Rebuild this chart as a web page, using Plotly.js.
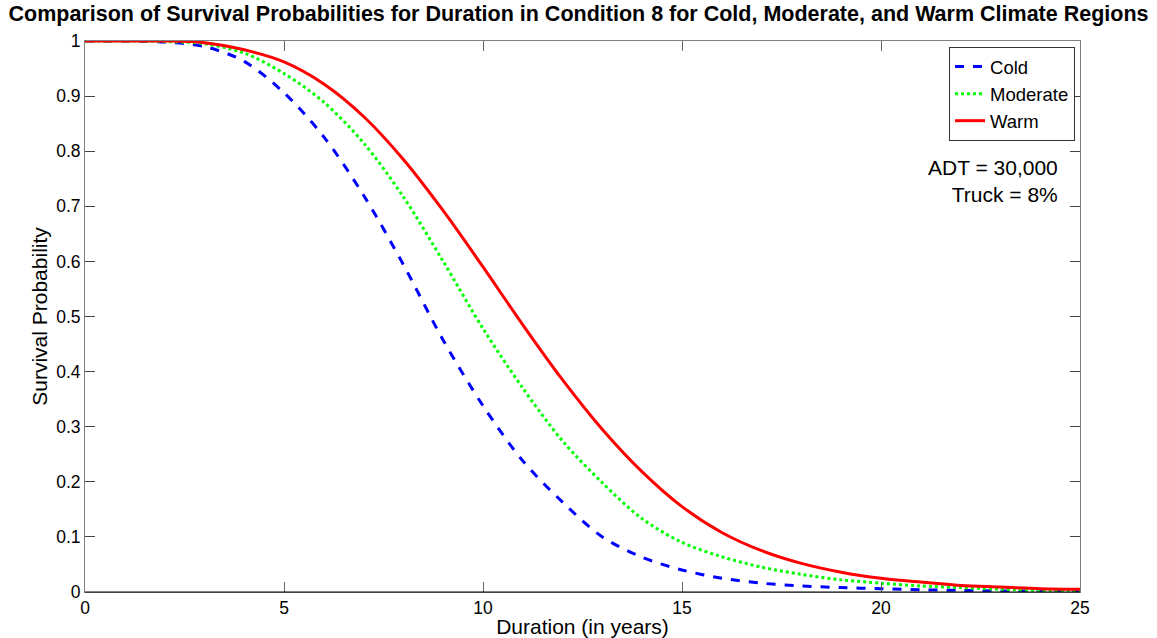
<!DOCTYPE html>
<html>
<head>
<meta charset="utf-8">
<script src="https://cdn.plot.ly/plotly-3.0.1.min.js"></script>
<style>html,body{margin:0;padding:0;background:#fff;}#chart{width:1157px;height:638px;}</style>
</head>
<body>
<div id="chart"></div>
<script>
var years = [0,1,2,3,4,5,6,7,8,9,10,11,12,13,14,15,16,17,18,19,20,21,22,23,24,25];
var cold = [1,1,0.998,0.99,0.963,0.906,0.826,0.72,0.594,0.457,0.338,0.238,0.163,0.1,0.063,0.040,0.025,0.016,0.011,0.008,0.006,0.004,0.003,0.002,0.0015,0.001];
var moderate = [1,1,0.999,0.995,0.978,0.941,0.889,0.815,0.717,0.6,0.478,0.37,0.274,0.198,0.133,0.09,0.064,0.045,0.032,0.022,0.016,0.011,0.008,0.005,0.003,0.002];
var warm = [1,1,1,0.997,0.984,0.962,0.922,0.863,0.785,0.692,0.59,0.485,0.385,0.295,0.218,0.155,0.108,0.075,0.052,0.036,0.025,0.018,0.012,0.009,0.006,0.005];
var seriesNames = ['Cold','Moderate','Warm'];
var xTicks = [0,5,10,15,20,25];
var yTicks = [0,0.1,0.2,0.3,0.4,0.5,0.6,0.7,0.8,0.9,1];
var yTickText = ['0','0.1','0.2','0.3','0.4','0.5','0.6','0.7','0.8','0.9','1'];

var traces = [
  {x: years, y: cold, name: seriesNames[0], mode: 'lines', line: {color: '#0000ff', width: 3, dash: 'dash', shape: 'spline', smoothing: 0.9}},
  {x: years, y: moderate, name: seriesNames[1], mode: 'lines', line: {color: '#00ff00', width: 3, dash: 'dot', shape: 'spline', smoothing: 0.9}},
  {x: years, y: warm, name: seriesNames[2], mode: 'lines', line: {color: '#ff0000', width: 3, shape: 'spline', smoothing: 0.9}}
];

var font = 'Arial, "Liberation Sans", sans-serif';
var layout = {
  width: 1157, height: 638,
  paper_bgcolor: '#ffffff', plot_bgcolor: '#ffffff',
  margin: {l: 85, r: 77, t: 41, b: 46},
  font: {family: font, color: '#000', size: 17},
  title: {text: '<b>Comparison of Survival Probabilities for Duration in Condition 8 for Cold, Moderate, and Warm Climate Regions</b>',
          font: {family: font, size: 21.5, color: '#000'}, x: 0.5, xanchor: 'center', y: 0.99, yanchor: 'top'},
  xaxis: {range: [0, 25], tickvals: xTicks, ticks: 'inside', ticklen: 10, tickcolor: '#666',
          showline: true, linecolor: '#808080', linewidth: 1, mirror: 'ticks', showgrid: false, zeroline: false,
          tickfont: {size: 17.5}, title: {text: 'Duration (in years)', font: {size: 21}, standoff: 2}},
  yaxis: {range: [0, 1], tickvals: yTicks, ticktext: yTickText, ticks: 'inside', ticklen: 10, tickcolor: '#444',
          showline: true, linecolor: '#808080', linewidth: 1, mirror: 'ticks', showgrid: false, zeroline: false,
          tickfont: {size: 17.5}, title: {text: 'Survival Probability', font: {size: 21}, standoff: 2}},
  legend: {x: 0.995, xanchor: 'right', y: 0.989, yanchor: 'top', bgcolor: '#fff', bordercolor: '#333', borderwidth: 1,
           font: {size: 18.5}, tracegroupgap: 0, itemwidth: 30},
  annotations: [{xref: 'paper', yref: 'paper', x: 0.98, y: 0.795, xanchor: 'right', yanchor: 'top', align: 'right',
                 showarrow: false, text: 'ADT = 30,000<br>Truck = 8%', font: {size: 21}}],
  shapes: [{type: 'line', xref: 'paper', yref: 'paper', x0: 0, x1: 1, y0: 0, y1: 0, line: {color: '#000', width: 1}}],
  showlegend: true
};
Plotly.newPlot('chart', traces, layout, {displayModeBar: false, staticPlot: true});
</script>
</body>
</html>
